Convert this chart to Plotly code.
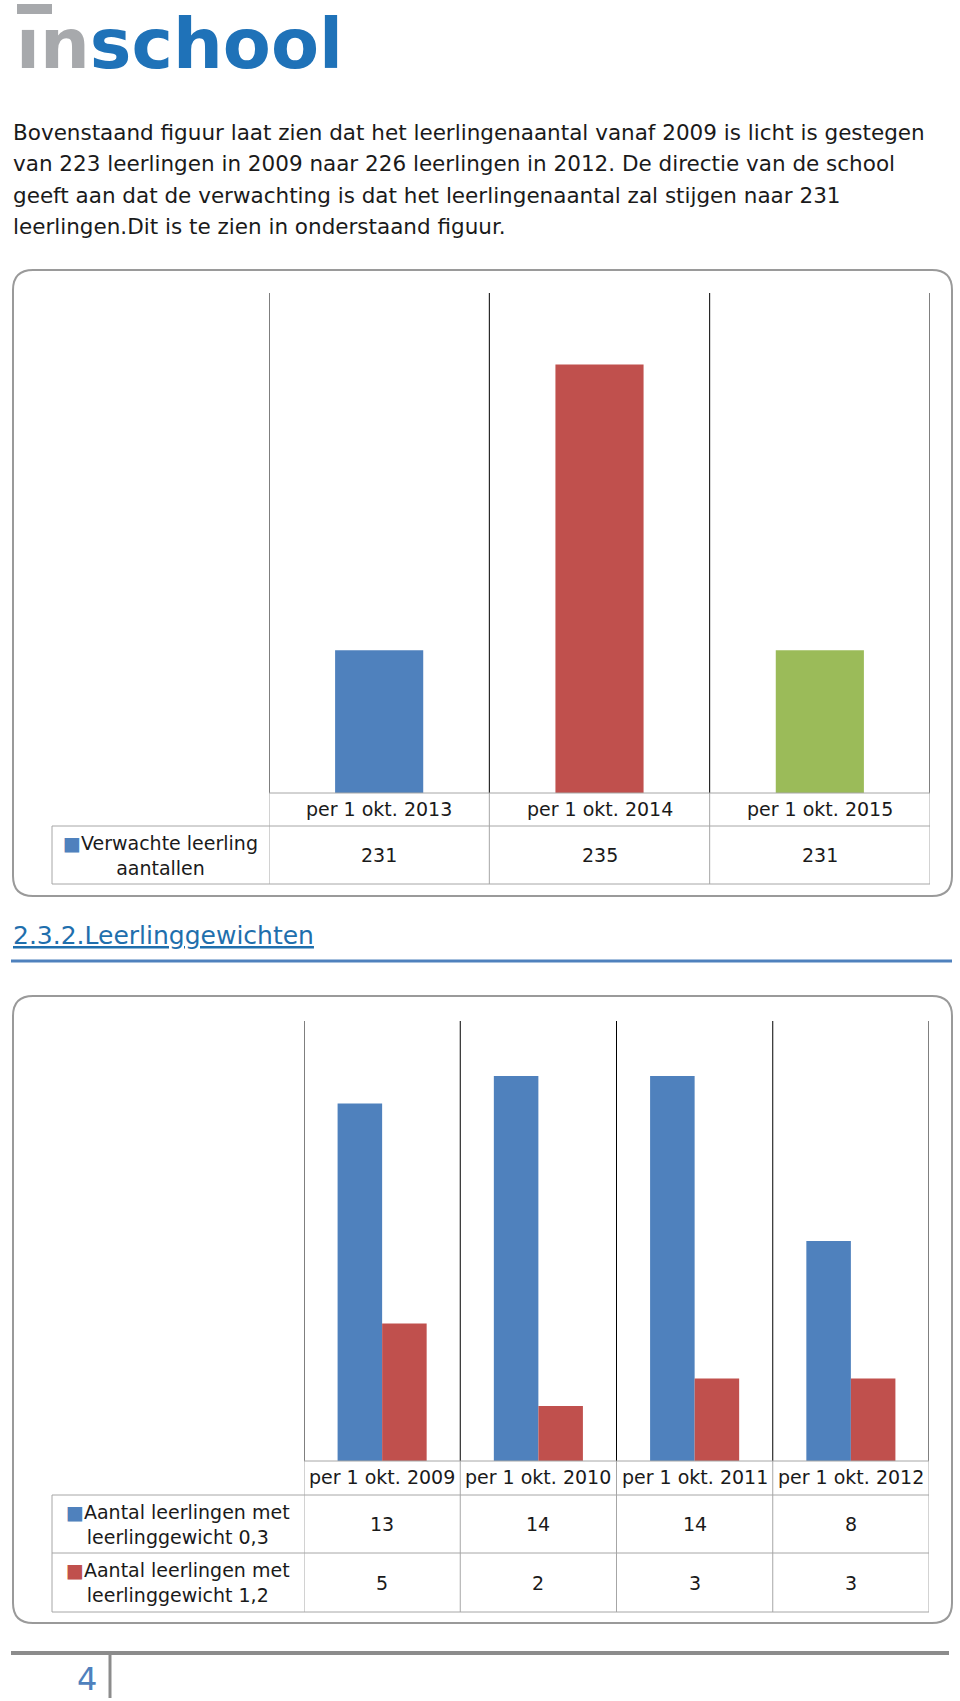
import plotly.graph_objects as go

# ---------------- data ----------------
chart1_categories = ["per 1 okt. 2013", "per 1 okt. 2014", "per 1 okt. 2015"]
chart1_series_name = "Verwachte leerling<br>aantallen"
chart1_values = [231, 235, 231]

chart2_categories = ["per 1 okt. 2009", "per 1 okt. 2010", "per 1 okt. 2011", "per 1 okt. 2012"]
chart2_series_names = ["Aantal leerlingen met<br>leerlinggewicht 0,3",
                       "Aantal leerlingen met<br>leerlinggewicht 1,2"]
chart2_weight_03 = [13, 14, 14, 8]
chart2_weight_12 = [5, 2, 3, 3]

paragraph_lines = [
    "Bovenstaand figuur laat zien dat het leerlingenaantal vanaf 2009 is licht is gestegen",
    "van 223 leerlingen in 2009 naar 226 leerlingen in 2012. De directie van de school",
    "geeft aan dat de verwachting is dat het leerlingenaantal zal stijgen naar 231",
    "leerlingen.Dit is te zien in onderstaand figuur.",
]
heading_text = "2.3.2.Leerlinggewichten"
page_number = "4"

# ---------------- styling ----------------
W, H = 960, 1701
BLUE, RED, GREEN = "#4f81bd", "#c0504d", "#9bbb59"
chart1_colors = [BLUE, RED, GREEN]
FONT = "DejaVu Sans, sans-serif"
TXT = "#1a1a1a"
GRID = "#a6a6a6"


def px(x):
    return x / W


def py(y):
    return 1 - y / H


fig = go.Figure()

# chart 1 bars
fig.add_trace(go.Bar(
    x=list(range(len(chart1_categories))), y=chart1_values,
    marker=dict(color=chart1_colors, line=dict(width=0)),
    width=0.4, xaxis="x", yaxis="y", showlegend=False, hoverinfo="skip",
))
# chart 2 bars
fig.add_trace(go.Bar(
    x=list(range(len(chart2_categories))), y=chart2_weight_03,
    marker=dict(color=BLUE, line=dict(width=0)),
    width=0.285, offset=-0.285, xaxis="x2", yaxis="y2", showlegend=False, hoverinfo="skip",
))
fig.add_trace(go.Bar(
    x=list(range(len(chart2_categories))), y=chart2_weight_12,
    marker=dict(color=RED, line=dict(width=0)),
    width=0.285, offset=0.0, xaxis="x2", yaxis="y2", showlegend=False, hoverinfo="skip",
))

shapes = []
annotations = []


def rounded_box(x0, y0, x1, y1, r):
    X0, X1 = px(x0), px(x1)
    Y0, Y1 = py(y0), py(y1)
    rx, ry = r / W, r / H
    path = (f"M {X0+rx},{Y0} L {X1-rx},{Y0} Q {X1},{Y0} {X1},{Y0-ry} "
            f"L {X1},{Y1+ry} Q {X1},{Y1} {X1-rx},{Y1} "
            f"L {X0+rx},{Y1} Q {X0},{Y1} {X0},{Y1+ry} "
            f"L {X0},{Y0-ry} Q {X0},{Y0} {X0+rx},{Y0} Z")
    shapes.append(dict(type="path", xref="paper", yref="paper", path=path,
                       line=dict(color="#9a9a9a", width=2), layer="below"))


def hline(x0, x1, y, color, width):
    shapes.append(dict(type="line", xref="paper", yref="paper",
                       x0=px(x0), x1=px(x1), y0=py(y), y1=py(y),
                       line=dict(color=color, width=width)))


def vline(x, y0, y1, color, width):
    shapes.append(dict(type="line", xref="paper", yref="paper",
                       x0=px(x), x1=px(x), y0=py(y0), y1=py(y1),
                       line=dict(color=color, width=width)))


def text(x, y, s, size, color=TXT, xanchor="center", family=FONT, align="center"):
    annotations.append(dict(x=px(x), y=py(y), xref="paper", yref="paper", text=s,
                            showarrow=False, xanchor=xanchor, yanchor="middle", align=align,
                            font=dict(family=family, size=size, color=color)))


def chart_table(xa, n, plot_top, base_y, left_x, plot_left, row_edges, header_y, rows,
                legend_names, legend_colors, cats):
    xr = "x" if xa == 1 else "x2"
    for i in range(n + 1):
        # black vertical gridlines at category boundaries
        shapes.append(dict(type="line", xref=xr, yref="paper", x0=i - 0.5, x1=i - 0.5,
                           y0=py(base_y), y1=py(plot_top), line=dict(color="black", width=1)))
        # table vertical lines
        shapes.append(dict(type="line", xref=xr, yref="paper", x0=i - 0.5, x1=i - 0.5,
                           y0=py(row_edges[-1]), y1=py(base_y), line=dict(color=GRID, width=1)))
    # baseline / header top
    shapes.append(dict(type="line", xref=xr, yref="paper", x0=-0.5, x1=n - 0.5,
                       y0=py(base_y), y1=py(base_y), line=dict(color=GRID, width=1)))
    # row lines (extend into legend column)
    for ye in row_edges:
        shapes.append(dict(type="line", xref=xr, yref="paper", x0=-0.5, x1=n - 0.5,
                           y0=py(ye), y1=py(ye), line=dict(color=GRID, width=1)))
        hline(left_x, plot_left, ye, GRID, 1)
    vline(left_x, row_edges[0], row_edges[-1], GRID, 1)
    # header labels
    for i, c in enumerate(cats):
        annotations.append(dict(x=i, y=py(header_y), xref=xr, yref="paper", text=c, showarrow=False,
                                xanchor="center", yanchor="middle",
                                font=dict(family=FONT, size=19, color=TXT)))
    # value rows
    for r, vals in enumerate(rows):
        yc = (row_edges[r] + row_edges[r + 1]) / 2
        for i, v in enumerate(vals):
            annotations.append(dict(x=i, y=py(yc), xref=xr, yref="paper", text=str(v), showarrow=False,
                                    xanchor="center", yanchor="middle",
                                    font=dict(family=FONT, size=19, color=TXT)))
        annotations.append(dict(x=px((left_x + plot_left) / 2), y=py(yc), xref="paper", yref="paper",
                                text=f"<span style='color:{legend_colors[r]}'>■</span>{legend_names[r]}",
                                showarrow=False, xanchor="center", yanchor="middle", align="center",
                                font=dict(family=FONT, size=19, color=TXT)))


# ----- logo -----
text(14, 44, "<b><span style='color:#a7a9ac'>ın</span><span style='color:#1f72b8'>school</span></b>",
     70, xanchor="left", family="DejaVu Sans, sans-serif")
shapes.append(dict(type="rect", xref="paper", yref="paper", x0=px(17), x1=px(52), y0=py(14), y1=py(4),
                   fillcolor="#a7a9ac", line=dict(width=0)))

# ----- paragraph -----
for k, line in enumerate(paragraph_lines):
    text(11, 132 + k * 31.6, line, 21.5, xanchor="left", align="left")

# ----- chart 1 -----
rounded_box(13, 270, 952, 896, 20)
chart_table(1, len(chart1_categories), 293, 793, 52, 269, [826, 884], 809,
            [chart1_values], [chart1_series_name], [BLUE], chart1_categories)

# ----- heading -----
text(11, 935, f"<u>{heading_text}</u>", 25, color="#1f6fad", xanchor="left", align="left")
hline(11, 952, 961, BLUE, 3)

# ----- chart 2 -----
rounded_box(13, 996, 952, 1623, 20)
chart_table(2, len(chart2_categories), 1021, 1461, 52, 304, [1495, 1553, 1612], 1477,
            [chart2_weight_03, chart2_weight_12], chart2_series_names, [BLUE, RED], chart2_categories)

# ----- footer -----
hline(11, 949, 1653, "#8c8c8c", 4)
vline(110, 1653, 1698, "#8c8c8c", 3)
text(87, 1679, page_number, 32, color=BLUE)

fig.update_layout(
    width=W, height=H, margin=dict(l=0, r=0, t=0, b=0),
    paper_bgcolor="white", plot_bgcolor="rgba(0,0,0,0)",
    shapes=shapes, annotations=annotations, barmode="overlay",
    xaxis=dict(domain=[px(269), px(930)], range=[-0.5, len(chart1_categories) - 0.5],
               visible=False, fixedrange=True),
    yaxis=dict(domain=[py(793), py(293)], range=[229, 236], visible=False, fixedrange=True),
    xaxis2=dict(domain=[px(304), px(929)], range=[-0.5, len(chart2_categories) - 0.5],
                visible=False, fixedrange=True, anchor="y2"),
    yaxis2=dict(domain=[py(1461), py(1021)], range=[0, 16], visible=False, fixedrange=True, anchor="x2"),
)

fig.write_html("out.html", config={"displayModeBar": False, "staticPlot": True},
               post_script="document.body.style.margin='0';document.body.style.overflow='hidden';")
